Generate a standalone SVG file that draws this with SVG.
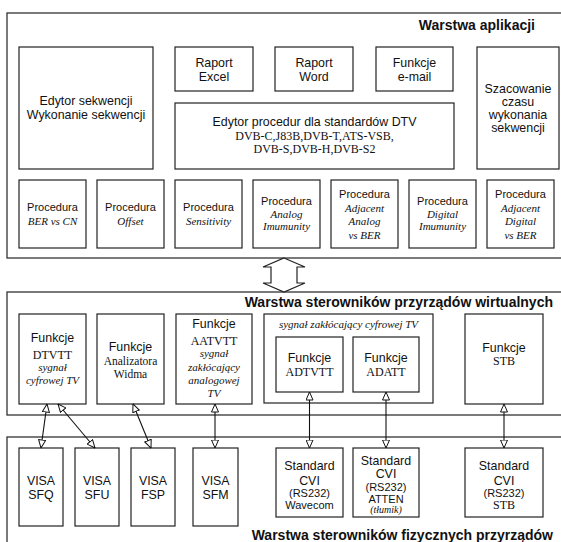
<svg xmlns="http://www.w3.org/2000/svg" width="561" height="542" viewBox="0 0 561 542">
<style>
rect{fill:#fff;stroke:#222;stroke-width:1.2}
.layer{fill:#fff;stroke:#333;stroke-width:1.3}
text{font-family:"Liberation Sans",Arial,sans-serif;font-size:12.4px;fill:#111;text-anchor:middle}
.s{font-size:11px}
.t{font-family:"Liberation Serif","Times New Roman",serif;font-size:12px}
.i{font-family:"Liberation Serif","Times New Roman",serif;font-style:italic;font-size:11px}
.title{font-weight:bold;font-size:14px;text-anchor:end}
.c{stroke:#111;stroke-width:1.1;fill:none;marker-start:url(#tri);marker-end:url(#tri)}
</style>
<defs>
<marker id="tri" viewBox="0 0 9 8" refX="8.5" refY="4" markerWidth="9" markerHeight="8" markerUnits="userSpaceOnUse" orient="auto-start-reverse">
<path d="M0.5,0.5 L8.5,4 L0.5,7.5 Z" fill="#fff" stroke="#111" stroke-width="1"/>
</marker>
</defs>

<g id="layer-app">
<rect class="layer" x="7" y="13" width="600" height="245"/>
<text class="title" x="535" y="30">Warstwa aplikacji</text>
</g>
<g id="edytor-sekwencji">
<rect x="19" y="47" width="134" height="122"/>
<text x="86" y="104.5">Edytor sekwencji</text>
<text x="86" y="118.5">Wykonanie sekwencji</text>
</g>
<g id="raport-excel">
<rect x="175" y="47" width="78" height="44"/>
<text x="214" y="66.5">Raport</text>
<text x="214" y="80.5">Excel</text>
</g>
<g id="raport-word">
<rect x="275" y="47" width="78" height="44"/>
<text x="314" y="66.5">Raport</text>
<text x="314" y="80.5">Word</text>
</g>
<g id="funkcje-email">
<rect x="376" y="47" width="77" height="44"/>
<text x="414.5" y="66.5">Funkcje</text>
<text x="414.5" y="80.5">e-mail</text>
</g>
<g id="szacowanie">
<rect x="477" y="47" width="82" height="122"/>
<text x="518" y="93">Szacowanie</text>
<text x="518" y="106">czasu</text>
<text x="518" y="119">wykonania</text>
<text x="518" y="132">sekwencji</text>
</g>
<g id="edytor-procedur">
<rect x="175" y="103" width="279" height="66"/>
<text x="314.5" y="125.5">Edytor procedur dla standardów DTV</text>
<text class="t" x="314.5" y="140">DVB-C,J83B,DVB-T,ATS-VSB,</text>
<text class="t" x="314.5" y="153">DVB-S,DVB-H,DVB-S2</text>
</g>
<g id="proc-ber">
<rect x="19" y="180" width="67" height="68"/>
<text class="s" x="52.5" y="211">Procedura</text>
<text class="i" x="52.5" y="225">BER vs CN</text>
</g>
<g id="proc-offset">
<rect x="97" y="180" width="67" height="68"/>
<text class="s" x="130.5" y="211">Procedura</text>
<text class="i" x="130.5" y="225">Offset</text>
</g>
<g id="proc-sensitivity">
<rect x="175" y="180" width="67" height="68"/>
<text class="s" x="208.5" y="211">Procedura</text>
<text class="i" x="208.5" y="225">Sensitivity</text>
</g>
<g id="proc-analog-imm">
<rect x="253" y="180" width="67" height="68"/>
<text class="s" x="286.5" y="205">Procedura</text>
<text class="i" x="286.5" y="217.5">Analog</text>
<text class="i" x="286.5" y="230">Imumunity</text>
</g>
<g id="proc-adj-analog">
<rect x="331" y="180" width="67" height="68"/>
<text class="s" x="364.5" y="198">Procedura</text>
<text class="i" x="364.5" y="211.5">Adjacent</text>
<text class="i" x="364.5" y="225">Analog</text>
<text class="i" x="364.5" y="238.5">vs BER</text>
</g>
<g id="proc-digital-imm">
<rect x="409" y="180" width="67" height="68"/>
<text class="s" x="442.5" y="205">Procedura</text>
<text class="i" x="442.5" y="217.5">Digital</text>
<text class="i" x="442.5" y="230">Imumunity</text>
</g>
<g id="proc-adj-digital">
<rect x="487" y="180" width="67" height="68"/>
<text class="s" x="520.5" y="198">Procedura</text>
<text class="i" x="520.5" y="211.5">Adjacent</text>
<text class="i" x="520.5" y="225">Digital</text>
<text class="i" x="520.5" y="238.5">vs BER</text>
</g>

<g id="layer-virtual">
<rect class="layer" x="7" y="292" width="600" height="123"/>
<text class="title" x="553" y="307">Warstwa sterowników przyrządów wirtualnych</text>
</g>
<g id="funkcje-dtvtt">
<rect x="19" y="314" width="67" height="90"/>
<text x="52.5" y="341.5">Funkcje</text>
<text class="t" x="52.5" y="358.5">DTVTT</text>
<text class="i" x="52.5" y="371">sygnał</text>
<text class="i" x="52.5" y="384">cyfrowej TV</text>
</g>
<g id="funkcje-analizatora">
<rect x="97" y="314" width="67" height="90"/>
<text x="130.5" y="350.5">Funkcje</text>
<text class="t" x="130.5" y="365" style="font-size:11.5px">Analizatora</text>
<text class="t" x="130.5" y="377.5" style="font-size:11.5px">Widma</text>
</g>
<g id="funkcje-aatvtt">
<rect x="176" y="314" width="76" height="90"/>
<text x="214" y="327.5">Funkcje</text>
<text class="t" x="214" y="344.5">AATVTT</text>
<text class="i" x="214" y="357">sygnał</text>
<text class="i" x="214" y="371">zakłócający</text>
<text class="i" x="214" y="384">analogowej</text>
<text class="i" x="214" y="397">TV</text>
</g>
<g id="grupa-cyfrowa">
<rect x="264" y="314" width="169" height="89"/>
<text class="i" x="348.5" y="328">sygnał zakłócający cyfrowej TV</text>
</g>
<g id="funkcje-adtvtt">
<rect x="276" y="337" width="67" height="55"/>
<text x="309.5" y="361.5">Funkcje</text>
<text class="t" x="309.5" y="375.5">ADTVTT</text>
</g>
<g id="funkcje-adatt">
<rect x="353" y="337" width="66" height="55"/>
<text x="386" y="361.5">Funkcje</text>
<text class="t" x="386" y="375.5">ADATT</text>
</g>
<g id="funkcje-stb">
<rect x="465" y="314" width="78" height="90"/>
<text x="504" y="351.5">Funkcje</text>
<text class="t" x="504" y="364.5">STB</text>
</g>

<g id="layer-physical">
<rect class="layer" x="7" y="437" width="600" height="200"/>
<text class="title" x="553" y="540">Warstwa sterowników fizycznych przyrządów</text>
</g>
<g id="visa-sfq">
<rect x="19" y="448" width="44" height="78"/>
<text x="41" y="484.5">VISA</text>
<text x="41" y="498.5">SFQ</text>
</g>
<g id="visa-sfu">
<rect x="75" y="448" width="44" height="78"/>
<text x="97" y="484.5">VISA</text>
<text x="97" y="498.5">SFU</text>
</g>
<g id="visa-fsp">
<rect x="131" y="448" width="44" height="78"/>
<text x="153" y="484.5">VISA</text>
<text x="153" y="498.5">FSP</text>
</g>
<g id="visa-sfm">
<rect x="193" y="448" width="45" height="78"/>
<text x="215.5" y="484.5">VISA</text>
<text x="215.5" y="498.5">SFM</text>
</g>
<g id="cvi-wavecom">
<rect x="276" y="448" width="67" height="69"/>
<text x="309.5" y="469.5">Standard</text>
<text x="309.5" y="484.5">CVI</text>
<text class="s" x="309.5" y="496.5">(RS232)</text>
<text class="s" x="309.5" y="508.5">Wavecom</text>
</g>
<g id="cvi-atten">
<rect x="353" y="448" width="66" height="69"/>
<text x="386" y="464.5">Standard</text>
<text x="386" y="477.5">CVI</text>
<text class="s" x="386" y="491">(RS232)</text>
<text class="s" x="386" y="502.5">ATTEN</text>
<text class="i" x="386" y="513" style="font-size:10px">(tłumik)</text>
</g>
<g id="cvi-stb">
<rect x="465" y="448" width="78" height="69"/>
<text x="504" y="469.5">Standard</text>
<text x="504" y="484.5">CVI</text>
<text class="s" x="504" y="496.5">(RS232)</text>
<text class="t" x="504" y="508.5">STB</text>
</g>

<g id="connectors">
<polygon points="284,258 305,267 297,267 297,283 305,283 284,292 263,283 271,283 271,267 263,267" fill="#fff" stroke="#222" stroke-width="1.2"/>
<line class="c" x1="47" y1="404" x2="41" y2="448"/>
<line class="c" x1="58" y1="404" x2="95" y2="448"/>
<line class="c" x1="133" y1="404" x2="151" y2="448"/>
<line class="c" x1="215" y1="404" x2="215" y2="448"/>
<line class="c" x1="309.5" y1="392" x2="309.5" y2="448"/>
<line class="c" x1="386" y1="392" x2="386" y2="448"/>
<line class="c" x1="504" y1="404" x2="504" y2="448"/>
</g>
</svg>
